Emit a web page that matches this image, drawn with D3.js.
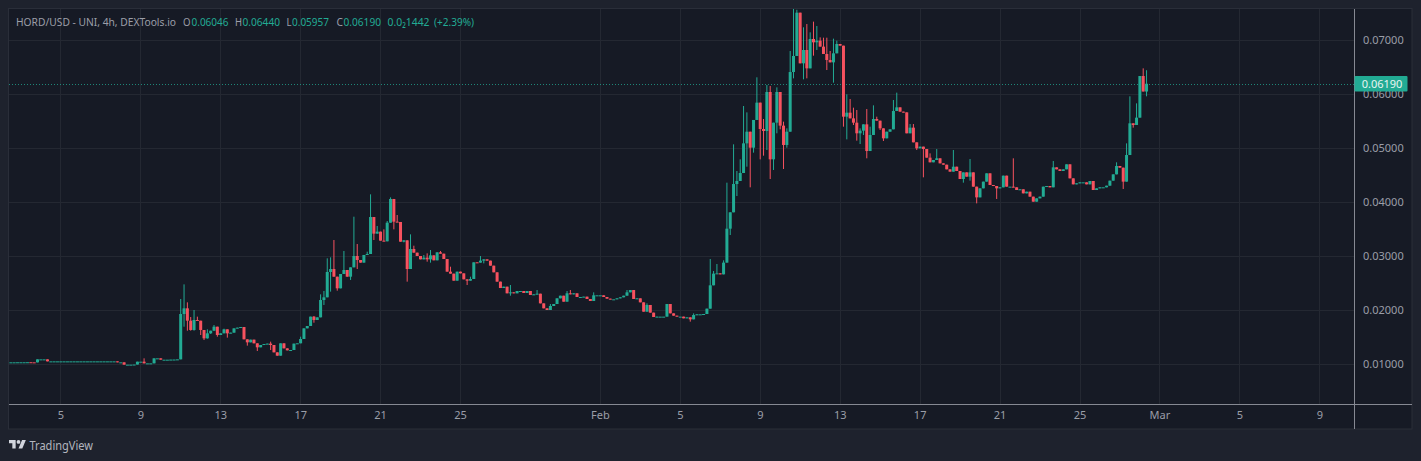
<!DOCTYPE html>
<html>
<head>
<meta charset="utf-8">
<title>HORD/USD</title>
<script src="https://cdn.jsdelivr.net/npm/d3@7"></script>
<style>
  html, body { margin: 0; padding: 0; background: #1e222d; overflow: hidden; }
  text { font-family: "Noto Sans", sans-serif; }
</style>
</head>
<body>
<div id="chart-area"></div>
<script>
// 4h closes, one per bar. Open of a bar = close of the bar before it
var closes = [
  0.01030,0.01031,0.01031,0.01032,0.01032,0.01032,0.01033,0.01031,0.01030,0.01086,
  0.01086,0.01086,0.01049,0.01049,0.01049,0.01049,0.01049,0.01049,0.01049,0.01049,
  0.01049,0.01049,0.01049,0.01049,0.01049,0.01049,0.01049,0.01049,0.01049,0.01049,
  0.01049,0.01049,0.01049,0.01031,0.01031,0.00988,0.00988,0.00988,0.00990,0.01043,
  0.01043,0.01012,0.01012,0.01012,0.01105,0.01105,0.01080,0.01080,0.01080,0.01082,
  0.01083,0.01086,0.01926,0.02031,0.01802,0.01630,0.01815,0.01802,0.01630,0.01475,
  0.01568,0.01617,0.01691,0.01537,0.01568,0.01642,0.01568,0.01580,0.01660,0.01673,
  0.01685,0.01457,0.01401,0.01451,0.01383,0.01309,0.01352,0.01370,0.01377,0.01352,
  0.01216,0.01154,0.01383,0.01290,0.01253,0.01259,0.01377,0.01383,0.01463,0.01660,
  0.01704,0.01877,0.01815,0.01864,0.02185,0.02235,0.02704,0.02759,0.02617,0.02401,
  0.02667,0.02741,0.02617,0.02790,0.03000,0.02926,0.02877,0.03019,0.03037,0.03722,
  0.03414,0.03451,0.03284,0.03272,0.03617,0.04056,0.03636,0.03630,0.03265,0.03290,
  0.02759,0.03130,0.03062,0.03000,0.02938,0.02969,0.02938,0.03012,0.02920,0.03068,
  0.03043,0.02944,0.02710,0.02673,0.02543,0.02710,0.02679,0.02568,0.02543,0.02574,
  0.02883,0.02877,0.02914,0.02938,0.02914,0.02821,0.02698,0.02525,0.02407,0.02432,
  0.02309,0.02327,0.02309,0.02352,0.02352,0.02315,0.02352,0.02278,0.02290,0.02302,
  0.02123,0.02031,0.02000,0.02074,0.02111,0.02216,0.02265,0.02154,0.02309,0.02290,
  0.02309,0.02241,0.02241,0.02247,0.02204,0.02167,0.02272,0.02272,0.02272,0.02241,
  0.02210,0.02198,0.02198,0.02216,0.02235,0.02265,0.02327,0.02370,0.02204,0.02216,
  0.02142,0.01969,0.02093,0.01951,0.01870,0.01877,0.01877,0.01877,0.02111,0.01938,
  0.01895,0.01877,0.01877,0.01846,0.01864,0.01827,0.01907,0.01920,0.01920,0.01926,
  0.02025,0.02457,0.02673,0.02679,0.02660,0.02877,0.03506,0.03809,0.04333,0.04389,
  0.04537,0.05086,0.05302,0.05006,0.05519,0.05840,0.05352,0.05315,0.06037,0.04790,
  0.05469,0.06037,0.05414,0.05056,0.05302,0.06407,0.06704,0.07506,0.06568,0.06815,
  0.06475,0.07019,0.06957,0.06988,0.06877,0.06741,0.06630,0.06586,0.06753,0.06926,
  0.06895,0.05580,0.05654,0.05549,0.05469,0.05272,0.05321,0.05438,0.04944,0.05241,
  0.05537,0.05506,0.05364,0.05179,0.05302,0.05346,0.05685,0.05753,0.05673,0.05660,
  0.05272,0.05377,0.05105,0.04994,0.05025,0.04981,0.04821,0.04735,0.04778,0.04809,
  0.04716,0.04691,0.04605,0.04562,0.04654,0.04574,0.04426,0.04549,0.04469,0.04549,
  0.04284,0.04086,0.04253,0.04377,0.04531,0.04315,0.04296,0.04253,0.04272,0.04488,
  0.04284,0.04284,0.04272,0.04222,0.04235,0.04160,0.04191,0.04099,0.04006,0.04068,
  0.04099,0.04284,0.04296,0.04272,0.04642,0.04605,0.04574,0.04605,0.04698,0.04438,
  0.04327,0.04346,0.04364,0.04364,0.04327,0.04389,0.04222,0.04253,0.04272,0.04272,
  0.04302,0.04395,0.04512,0.04667,0.04636,0.04377,0.04870,0.05457,0.05426,0.05562,
  0.06333,0.06046,0.06190
];

// [bar number, high] for the bars whose upper wick sticks out of the body
var wickHighs = [
  [41,0.01105],[52,0.02204],[53,0.02475],[54,0.02142],[55,0.01870],[56,0.02000],[57,0.01877],
  [60,0.01642],[62,0.01722],[65,0.01654],[79,0.01414],[88,0.01506],[92,0.01889],[94,0.02290],
  [95,0.02352],[96,0.02957],[97,0.02975],[98,0.03296],[101,0.03093],[104,0.03728],[105,0.03222],
  [108,0.03080],[109,0.04142],[111,0.03556],[113,0.03494],[114,0.03648],[115,0.04086],[117,0.03759],
  [121,0.03401],[122,0.03191],[125,0.03019],[126,0.03049],[127,0.03111],[130,0.03093],[133,0.02802],
  [139,0.02617],[142,0.03000],[151,0.02463],[159,0.02370],[163,0.02111],[168,0.02352],[169,0.02370],
  [176,0.02327],[186,0.02370],[192,0.02123],[206,0.01938],[211,0.02944],[212,0.02722],[213,0.02852],
  [215,0.02920],[216,0.04358],[218,0.05068],[219,0.04574],[220,0.04790],[221,0.05778],[222,0.05660],
  [225,0.06309],[227,0.05537],[228,0.06167],[229,0.06148],[231,0.06123],[233,0.05488],[234,0.05364],
  [235,0.06796],[236,0.07574],[237,0.07560],[239,0.07235],[240,0.07296],[241,0.07142],[242,0.07340],
  [243,0.07259],[244,0.07049],[245,0.07043],[246,0.07043],[247,0.06796],[248,0.07025],[249,0.06988],
  [252,0.05994],[253,0.05907],[254,0.05747],[255,0.05704],[256,0.05364],[258,0.05722],[259,0.05395],
  [260,0.05790],[261,0.05580],[266,0.05889],[267,0.06025],[271,0.05444],[272,0.05444],[277,0.04901],
  [279,0.04981],[284,0.04963],[289,0.04796],[302,0.04809],[314,0.04759],[333,0.04735],[336,0.05086],
  [337,0.05957],[339,0.05827],[341,0.06475],[342,0.06440]
];

// [bar number, low] same for the lower wick
var wickLows = [
  [53,0.01691],[54,0.01617],[55,0.01617],[56,0.01617],[58,0.01537],[59,0.01444],[60,0.01470],
  [61,0.01556],[62,0.01610],[63,0.01506],[66,0.01488],[72,0.01340],[75,0.01241],[79,0.01259],
  [92,0.01765],[95,0.02093],[97,0.02340],[99,0.02358],[103,0.02556],[105,0.02759],[110,0.03296],
  [116,0.03494],[119,0.03253],[120,0.02525],[126,0.02895],[127,0.02877],[138,0.02463],[143,0.02864],
  [151,0.02265],[205,0.01784],[217,0.03389],[219,0.04111],[222,0.04654],[223,0.04272],[224,0.04914],
  [226,0.04790],[227,0.04858],[228,0.04963],[229,0.04426],[230,0.04593],[231,0.05272],[232,0.05346],
  [233,0.04611],[234,0.05006],[236,0.06290],[239,0.06272],[240,0.06290],[242,0.06710],[243,0.06815],
  [246,0.06444],[248,0.06210],[251,0.05395],[252,0.05160],[254,0.05426],[255,0.05136],[256,0.05074],
  [257,0.05241],[258,0.04809],[262,0.05333],[263,0.05130],[273,0.04963],[275,0.04457],[287,0.04358],
  [289,0.04395],[291,0.03975],[297,0.04056],[335,0.04241],[338,0.05377],[342,0.05957]
];

var priceTicks = [0.01, 0.02, 0.03, 0.04, 0.05, 0.06, 0.07];
var dayTicks = ["2023-01-05","2023-01-09","2023-01-13","2023-01-17","2023-01-21","2023-01-25","2023-02-01",
  "2023-02-05","2023-02-09","2023-02-13","2023-02-17","2023-02-21","2023-02-25","2023-03-01","2023-03-05","2023-03-09"];
var dayLabels = ["5","9","13","17","21","25","Feb","5","9","13","17","21","25","Mar","5","9"];
var lastPrice = 0.0619;
var firstBar = Date.UTC(2023, 0, 2, 8, 30);
var barMs = 4 * 3600 * 1000;

var teal = "#22ab94", red = "#f7525f", textCol = "#9b9ea8";

var legendItems = [
  { s: "HORD/USD - UNI, 4h, DEXTools.io", x: 16, w: 160, c: textCol },
  { s: "O", x: 183, w: 7.5, c: textCol },
  { s: "0.06046", x: 191.5, w: 37, c: teal },
  { s: "H", x: 235, w: 7, c: textCol },
  { s: "0.06440", x: 242.5, w: 37.5, c: teal },
  { s: "L", x: 286.5, w: 5, c: textCol },
  { s: "0.05957", x: 292, w: 37, c: teal },
  { s: "C", x: 336.5, w: 6.5, c: textCol },
  { s: "0.06190", x: 343.5, w: 37.5, c: teal },
  { s: "0.0\u20821442", x: 387.5, w: 42, c: teal },
  { s: "(+2.39%)", x: 434, w: 40, c: teal }
];

var W = 1421, H = 461;
var plot = { left: 9, right: 1354.5, top: 9, bottom: 404, outerRight: 1412, outerBottom: 429 };

var svg = d3.select("#chart-area").append("svg")
    .attr("width", W)
    .attr("height", H)
    .style("display", "block");

//scales
var x = d3.scaleUtc()
    .domain([Date.UTC(2023, 0, 5), Date.UTC(2023, 2, 9)])
    .range([60.4, 1319.3]);
var y = d3.scaleLinear()
    .domain([0.01, 0.07])
    .range([364, 40]);

// highs and lows looked up by bar number
var highByBar = new Map(wickHighs), lowByBar = new Map(wickLows);
var bars = closes.map(function(c, i) {
    var o = i ? closes[i - 1] : c;
    return {
        t: new Date(firstBar + i * barMs),
        o: o,
        c: c,
        h: highByBar.has(i) ? highByBar.get(i) : Math.max(o, c),
        l: lowByBar.has(i) ? lowByBar.get(i) : Math.min(o, c)
    };
});

//panel
svg.append("rect")
    .attr("x", 8.5).attr("y", 8.5)
    .attr("width", plot.outerRight - 8.5)
    .attr("height", plot.outerBottom - 8.5)
    .attr("fill", "#161a25")
    .attr("stroke", "#2a2e39");

svg.append("clipPath").attr("id", "plot-clip")
  .append("rect")
    .attr("x", plot.left).attr("y", plot.top)
    .attr("width", plot.right - plot.left)
    .attr("height", plot.bottom - plot.top);

//gridlines
var tickDates = dayTicks.map(function(d) { return new Date(d + "T00:00:00Z"); });
var grid = svg.append("g").attr("stroke", "#242832").attr("stroke-width", 1);
grid.selectAll(".vgrid").data(tickDates).enter().append("line")
    .attr("x1", function(d) { return Math.round(x(d)) + 0.5; })
    .attr("x2", function(d) { return Math.round(x(d)) + 0.5; })
    .attr("y1", plot.top).attr("y2", plot.bottom);
grid.selectAll(".hgrid").data(priceTicks).enter().append("line")
    .attr("x1", plot.left).attr("x2", plot.right)
    .attr("y1", function(d) { return y(d) + 0.5; })
    .attr("y2", function(d) { return y(d) + 0.5; });

//last price line
svg.append("line")
    .attr("x1", plot.left).attr("x2", plot.right)
    .attr("y1", Math.round(y(lastPrice)) + 0.5)
    .attr("y2", Math.round(y(lastPrice)) + 0.5)
    .attr("stroke", teal)
    .attr("stroke-opacity", 0.75)
    .attr("stroke-dasharray", "1,2");

//candles
var candles = svg.append("g").attr("clip-path", "url(#plot-clip)");
var colour = function(d) { return d.c >= d.o ? teal : red; };
candles.selectAll(".wick").data(bars).enter().append("rect")
    .attr("class", "wick")
    .attr("x", function(d) { return x(d.t) - 0.5; })
    .attr("width", 1)
    .attr("y", function(d) { return y(d.h); })
    .attr("height", function(d) { return y(d.l) - y(d.h); })
    .attr("fill", colour);
candles.selectAll(".body").data(bars).enter().append("rect")
    .attr("class", "body")
    .attr("x", function(d) { return x(d.t) - 1.5; })
    .attr("width", 3)
    .attr("y", function(d) { return y(Math.max(d.o, d.c)); })
    .attr("height", function(d) { return Math.max(1, Math.abs(y(d.o) - y(d.c))); })
    .attr("fill", colour);

//X Axis
var xAxisCall = d3.axisBottom(x)
    .tickValues(tickDates)
    .tickSize(0)
    .tickPadding(7)
    .tickFormat(function(d, i) { return dayLabels[i]; });
var xAxis = svg.append("g")
    .attr("transform", "translate(0," + plot.bottom + ")")
    .call(xAxisCall);
xAxis.select(".domain").remove();
xAxis.selectAll("text")
    .attr("fill", textCol)
    .attr("font-size", "11px")
    .style("font-family", '"Noto Sans", sans-serif');

//Y Axis
var yAxisCall = d3.axisRight(y)
    .tickValues(priceTicks)
    .tickSize(0)
    .tickPadding(8.5)
    .tickFormat(d3.format(".5f"));
var yAxis = svg.append("g")
    .attr("transform", "translate(" + plot.right + ",0)")
    .call(yAxisCall);
yAxis.select(".domain").remove();
yAxis.selectAll("text")
    .attr("fill", textCol)
    .attr("font-size", "11px")
    .style("font-family", '"Noto Sans", sans-serif');

//axis borders
svg.append("line")
    .attr("x1", plot.left).attr("x2", plot.outerRight)
    .attr("y1", plot.bottom + 0.5).attr("y2", plot.bottom + 0.5)
    .attr("stroke", "#868993");
svg.append("line")
    .attr("x1", plot.right).attr("x2", plot.right)
    .attr("y1", plot.top).attr("y2", plot.outerBottom)
    .attr("stroke", "#868993");

//last price tag
svg.append("rect")
    .attr("x", plot.right).attr("y", y(lastPrice) - 7.7)
    .attr("width", 53).attr("height", 15.4)
    .attr("rx", 1)
    .attr("fill", teal);
svg.append("text")
    .attr("x", 1382).attr("y", y(lastPrice) + 0.5)
    .attr("dy", "0.36em")
    .attr("text-anchor", "middle")
    .attr("font-size", "11px")
    .attr("fill", "#e8f5f2")
    .text(d3.format(".5f")(lastPrice));

//legend
svg.append("g").selectAll("text").data(legendItems).enter().append("text")
    .attr("x", function(d) { return d.x; })
    .attr("y", 26)
    .attr("font-size", "11px")
    .attr("textLength", function(d) { return d.w; })
    .attr("lengthAdjust", "spacingAndGlyphs")
    .attr("fill", function(d) { return d.c; })
    .text(function(d) { return d.s; });

//TradingView mark
var logo = svg.append("g")
    .attr("transform", "translate(9,438.1) scale(0.475)")
    .attr("fill", "#d1d4dc");
logo.append("path").attr("d", "M14 22H7V11H0V4h14v18zM28 22h-8l7.5-18h8L28 22z");
logo.append("circle").attr("cx", 20).attr("cy", 8).attr("r", 4);
svg.append("text")
    .attr("x", 29.5).attr("y", 449.5)
    .attr("font-size", "12.5px")
    .attr("textLength", 63.5)
    .attr("lengthAdjust", "spacingAndGlyphs")
    .attr("fill", "#b2b5be")
    .text("TradingView");
</script>
</body>
</html>
